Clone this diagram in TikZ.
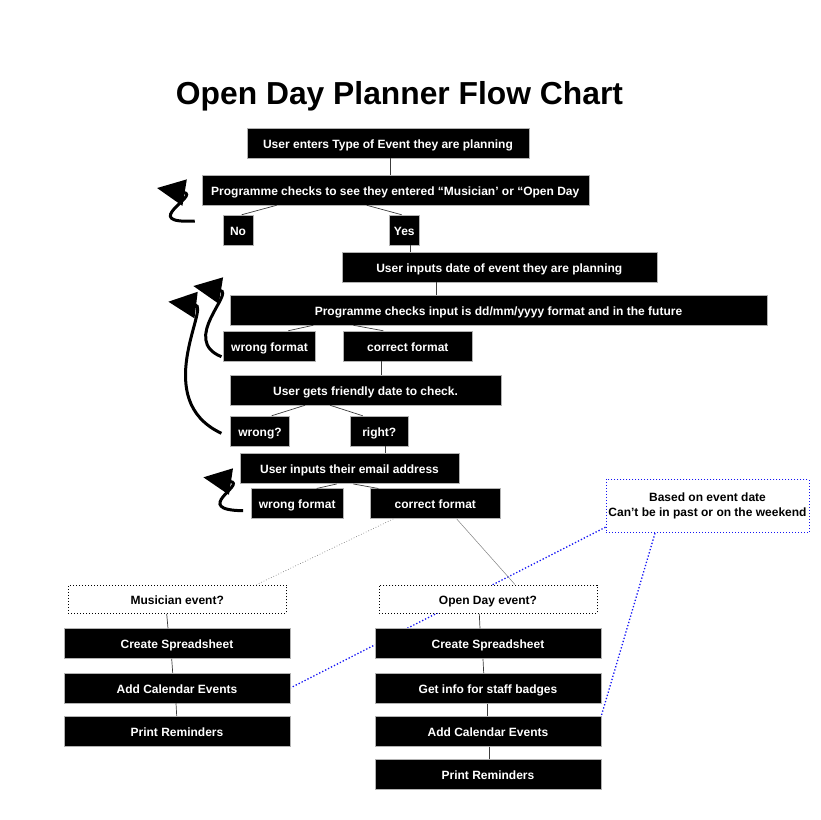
\documentclass[tikz,border=0pt]{standalone}
\usepackage{fontspec}
\setmainfont{Liberation Sans}
\usepackage{xcolor}
\usepackage{tikz}
\usetikzlibrary{arrows.meta, backgrounds}
\definecolor{odBlue}{RGB}{20, 20, 245}
\definecolor{odGray}{RGB}{60, 60, 60}

\begin{document}
\begin{tikzpicture}[x=1pt, y=-1pt,
    blk/.style={fill=black, draw=gray!60, line width=0.5pt, text=white, font=\fontsize{12}{14}\selectfont\bfseries, inner sep=0pt, text height=10pt, text depth=0pt, minimum height=30pt},
    askbox/.style={draw=black, dotted, line width=1pt, fill=white, font=\fontsize{12}{14}\selectfont\bfseries, inner sep=0pt, text height=10pt, text depth=0pt, minimum height=28.3pt, minimum width=218pt},
    link/.style={draw=odGray, line width=0.7pt},
    loopback/.style={line width=3pt, -{Triangle[length=28pt, width=26pt]}}]
  \useasboundingbox (0,0) rectangle (820,820);

  % Title
  \node[font=\fontsize{31.8}{36}\selectfont\bfseries, anchor=base] (title) at (399.5,104.3) {Open Day Planner Flow Chart};

  % Event type
  \node[blk, minimum width=282pt] (typeq) at (388,143) {User enters Type of Event they are planning};
  \node[blk, minimum width=387pt] (typecheck) at (395.3,190) {Programme checks to see they entered “Musician’ or “Open Day};
  \node[blk, minimum width=30pt] (typeno) at (238,230) {No};
  \node[blk, minimum width=30pt] (typeyes) at (404.3,230) {Yes};

  % Event date
  \node[blk, minimum width=315pt] (dateq) at (499.3,267) {User inputs date of event they are planning};
  \node[blk, minimum width=537pt] (datecheck) at (498.5,310) {Programme checks input is dd/mm/yyyy format and in the future};
  \node[blk, minimum width=92.4pt] (datewrong) at (269.5,346) {wrong format};
  \node[blk, minimum width=129pt] (dateok) at (407.8,346) {correct format};
  \node[blk, minimum width=271pt] (friendly) at (365.5,390) {User gets friendly date to check.};
  \node[blk, minimum width=58.6pt] (friendlywrong) at (260,431) {wrong?};
  \node[blk, minimum width=58.6pt] (friendlyright) at (379.3,431) {right?};

  % Email
  \node[blk, minimum width=219pt] (emailq) at (349.5,468.7) {User inputs their email address};
  \node[blk, minimum width=92.3pt] (emailwrong) at (297.2,503.7) {wrong format};
  \node[blk, minimum width=129.3pt] (emailok) at (435.3,503.7) {correct format};

  % Note
  \node[draw=odBlue, dotted, line width=1pt, fill=white, align=center, inner sep=0pt,
        font=\fontsize{12}{15}\selectfont\bfseries, minimum width=203pt, minimum height=53.4pt]
        (note) at (707.5,506) {Based on event date\\Can’t be in past or on the weekend};

  % Musician branch
  \node[askbox] (musician) at (177.2,599.2) {Musician event?};
  \node[blk, minimum width=226pt] (musss) at (177,643.5) {Create Spreadsheet};
  \node[blk, minimum width=226pt] (muscal) at (177,688) {Add Calendar Events};
  \node[blk, minimum width=226pt] (musprint) at (177,731) {Print Reminders};

  % Open Day branch
  \node[askbox] (openday) at (488,599.2) {Open Day event?};
  \node[blk, minimum width=226pt] (odss) at (488,643.7) {Create Spreadsheet};
  \node[blk, minimum width=226pt] (odbadge) at (488,688.3) {Get info for staff badges};
  \node[blk, minimum width=226pt] (odcal) at (488,731.3) {Add Calendar Events};
  \node[blk, minimum width=226pt] (odprint) at (488,774) {Print Reminders};

  % Connectors
  \draw[link] ([xshift=2.7pt]typeq.south) -- ([xshift=-4.6pt]typecheck.north);
  \draw[link] ([xshift=-118.6pt]typecheck.south) -- ([xshift=3.7pt]typeno.north);
  \draw[link] ([xshift=-28.6pt]typecheck.south) -- ([xshift=-2.6pt]typeyes.north);
  \draw[link] ([xshift=5.7pt]typeyes.south) -- ([xshift=-89.3pt]dateq.north);
  \draw[link] ([xshift=-62.6pt]dateq.south) -- ([xshift=-61.8pt]datecheck.north);
  \draw[link] ([xshift=-185.2pt]datecheck.south) -- ([xshift=18.8pt]datewrong.north);
  \draw[link] ([xshift=-145.2pt]datecheck.south) -- ([xshift=-24.5pt]dateok.north);
  \draw[link] ([xshift=-26.1pt]dateok.south) -- ([xshift=16.2pt]friendly.north);
  \draw[link] ([xshift=-60.5pt]friendly.south) -- ([xshift=11.7pt]friendlywrong.north);
  \draw[link] ([xshift=-35.5pt]friendly.south) -- ([xshift=-16.6pt]friendlyright.north);
  \draw[link] ([xshift=5.7pt]friendlyright.south) -- ([xshift=35.5pt]emailq.north);
  \draw[link] ([xshift=-12.8pt]emailq.south) -- ([xshift=19.5pt]emailwrong.north);
  \draw[link] ([xshift=3.8pt]emailq.south) -- ([xshift=-57pt]emailok.north);
  \draw[gray, dotted, line width=0.7pt] ([xshift=-42pt]emailok.south) -- ([xshift=79.5pt]musician.north);
  \draw[gray, line width=0.5pt] ([xshift=21.4pt]emailok.south) -- ([xshift=27pt]openday.north);
  \draw[link] ([xshift=-10.5pt]musician.south) -- ([xshift=-9pt]musss.north);
  \draw[link] ([xshift=-5.3pt]musss.south) -- ([xshift=-4.3pt]muscal.north);
  \draw[link] ([xshift=-1pt]muscal.south) -- ([xshift=-0.3pt]musprint.north);
  \draw[link] ([xshift=-8.7pt]openday.south) -- ([xshift=-8pt]odss.north);
  \draw[link] ([xshift=-5pt]odss.south) -- ([xshift=-4.3pt]odbadge.north);
  \draw[link] ([xshift=-0.3pt]odbadge.south) -- ([xshift=-0.3pt]odcal.north);
  \draw[link] ([xshift=1.7pt]odcal.south) -- ([xshift=1.7pt]odprint.north);

  % Note links, behind the boxes
  \begin{scope}[on background layer]
    \draw[odBlue, dotted, line width=1.3pt] ([yshift=6pt]note.south west) -- (muscal.east);
    \draw[odBlue, dotted, line width=1.3pt] ([xshift=-52.5pt]note.south) -- (odcal.north east);
  \end{scope}

  % Loop-back arrows
  \coordinate (h1) at (157,188);
  \coordinate (h2) at (193.3,286);
  \coordinate (h3) at (168.3,301.7);
  \coordinate (h4) at (203.3,477.3);
  \draw[loopback] ([xshift=-28pt,yshift=9pt]typeno.west) .. controls (138,224) and (200.2,195.2) .. (h1);
  \draw[loopback] ([xshift=-1.6pt,yshift=-10.7pt]datewrong.west) .. controls (180,340) and (234.7,292.8) .. (h2);
  \draw[loopback] ([xshift=-9pt,yshift=-2.3pt]friendlywrong.west) .. controls (150,400) and (209.6,306.7) .. (h3);
  \draw[loopback] ([xshift=-7.7pt,yshift=-7pt]emailwrong.west) .. controls (190,510) and (247,484) .. (h4);
\end{tikzpicture}
\end{document}
